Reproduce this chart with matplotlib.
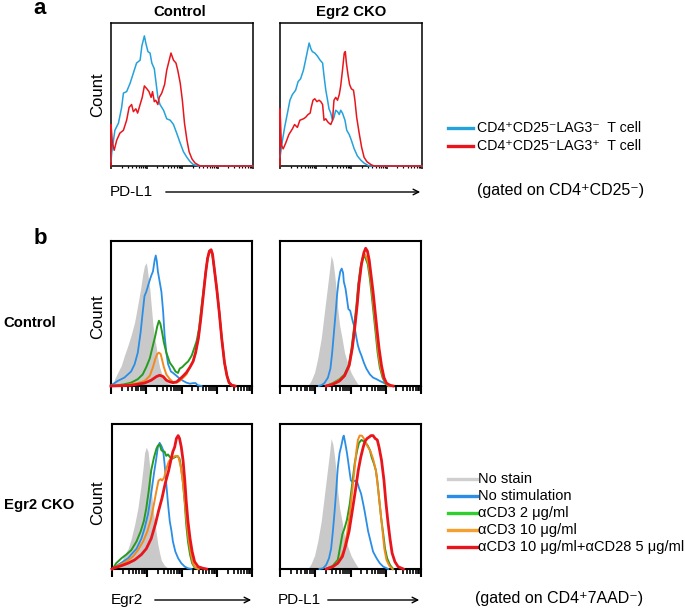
import numpy as np
import matplotlib
matplotlib.use('Agg')
import matplotlib.pyplot as plt
from matplotlib.lines import Line2D
from matplotlib.patches import FancyArrowPatch
from matplotlib.ticker import FixedLocator

plt.rcParams['font.family'] = ['Liberation Sans', 'DejaVu Sans']

# x = fluorescence in decades (0-4, log axis), y = count as fraction of panel height

# ---- panel a : PD-L1 on CD4+CD25- cells, LAG3- (blue) vs LAG3+ (red)
a_ctrl_neg = [(0.00, 0.03), (0.02, 0.09), (0.11, 0.25), (0.21, 0.30), (0.30, 0.41), (0.35, 0.51),
              (0.44, 0.52), (0.54, 0.58), (0.63, 0.65), (0.72, 0.72), (0.77, 0.73), (0.82, 0.74),
              (0.87, 0.84), (0.94, 0.91), (0.98, 0.86), (1.04, 0.80), (1.10, 0.79), (1.15, 0.72),
              (1.22, 0.68), (1.26, 0.60), (1.32, 0.48), (1.38, 0.43), (1.48, 0.39), (1.57, 0.33),
              (1.67, 0.32), (1.76, 0.29), (1.85, 0.23), (1.95, 0.16), (2.04, 0.10), (2.14, 0.06),
              (2.23, 0.03), (2.32, 0.01), (2.47, 0.0), (4.00, 0.0)]
a_ctrl_pos = [(0.00, 0.00), (0.00, 0.29), (0.04, 0.16), (0.09, 0.11), (0.16, 0.18), (0.25, 0.23),
              (0.35, 0.25), (0.44, 0.32), (0.51, 0.41), (0.58, 0.43), (0.63, 0.38), (0.70, 0.40),
              (0.75, 0.37), (0.82, 0.43), (0.88, 0.48), (0.94, 0.56), (1.01, 0.54), (1.07, 0.52),
              (1.13, 0.48), (1.17, 0.52), (1.22, 0.45), (1.26, 0.46), (1.32, 0.43), (1.36, 0.48),
              (1.43, 0.51), (1.51, 0.57), (1.57, 0.67), (1.64, 0.74), (1.69, 0.79), (1.76, 0.74),
              (1.83, 0.72), (1.88, 0.67), (1.95, 0.58), (2.01, 0.46), (2.07, 0.30), (2.14, 0.18),
              (2.20, 0.10), (2.28, 0.05), (2.37, 0.02), (2.51, 0.0), (4.00, 0.0)]
a_cko_neg = [(0.00, 0.06), (0.07, 0.18), (0.13, 0.27), (0.21, 0.37), (0.28, 0.46), (0.35, 0.50),
             (0.44, 0.53), (0.51, 0.59), (0.58, 0.61), (0.66, 0.67), (0.72, 0.74), (0.77, 0.80),
             (0.82, 0.86), (0.87, 0.82), (0.91, 0.80), (0.98, 0.79), (1.05, 0.77), (1.13, 0.74),
             (1.20, 0.72), (1.24, 0.63), (1.29, 0.53), (1.34, 0.46), (1.38, 0.40), (1.43, 0.37),
             (1.48, 0.32), (1.52, 0.34), (1.57, 0.39), (1.62, 0.38), (1.67, 0.36), (1.71, 0.39),
             (1.76, 0.37), (1.83, 0.32), (1.88, 0.25), (1.95, 0.22), (2.01, 0.18), (2.09, 0.12),
             (2.18, 0.07), (2.28, 0.04), (2.37, 0.02), (2.51, 0.0), (4.00, 0.0)]
a_cko_pos = [(0.00, 0.00), (0.00, 0.40), (0.04, 0.145), (0.09, 0.12), (0.16, 0.16), (0.25, 0.22),
             (0.35, 0.26), (0.41, 0.29), (0.49, 0.27), (0.56, 0.32), (0.66, 0.33), (0.72, 0.34),
             (0.79, 0.36), (0.85, 0.37), (0.88, 0.41), (0.93, 0.46), (0.98, 0.47), (1.04, 0.45),
             (1.10, 0.46), (1.15, 0.45), (1.20, 0.43), (1.24, 0.32), (1.29, 0.33), (1.34, 0.31),
             (1.38, 0.30), (1.43, 0.29), (1.48, 0.32), (1.52, 0.46), (1.57, 0.48), (1.62, 0.46),
             (1.67, 0.50), (1.71, 0.56), (1.76, 0.67), (1.81, 0.79), (1.84, 0.80), (1.87, 0.72),
             (1.92, 0.63), (1.96, 0.57), (2.01, 0.54), (2.07, 0.53), (2.11, 0.46), (2.16, 0.34),
             (2.23, 0.23), (2.30, 0.13), (2.37, 0.06), (2.45, 0.03), (2.56, 0.01), (2.65, 0.0),
             (4.00, 0.0)]

# ---- panel b : stimulation series (gated on CD4+7AAD-)
# control, Egr2
b_ce_nostain = [(0.05, 0.0), (0.10, 0.047), (0.19, 0.093), (0.29, 0.14), (0.38, 0.21), (0.48, 0.28),
                (0.57, 0.35), (0.67, 0.44), (0.76, 0.56), (0.84, 0.67), (0.90, 0.77), (0.95, 0.83),
                (1.00, 0.85), (1.03, 0.81), (1.07, 0.72), (1.10, 0.67), (1.14, 0.56), (1.19, 0.42),
                (1.24, 0.33), (1.29, 0.26), (1.33, 0.19), (1.38, 0.13), (1.43, 0.09), (1.48, 0.07),
                (1.52, 0.05), (1.62, 0.02), (1.71, 0.01), (1.81, 0.0)]
b_ce_nostim = [(0.00, 0.005), (0.10, 0.02), (0.19, 0.035), (0.29, 0.047), (0.38, 0.058), (0.48, 0.08),
               (0.57, 0.10), (0.67, 0.15), (0.76, 0.23), (0.84, 0.37), (0.90, 0.51), (0.95, 0.62),
               (1.00, 0.65), (1.05, 0.69), (1.10, 0.73), (1.14, 0.76), (1.19, 0.79), (1.24, 0.87),
               (1.27, 0.90), (1.30, 0.86), (1.33, 0.79), (1.38, 0.72), (1.43, 0.65), (1.48, 0.51),
               (1.52, 0.35), (1.57, 0.23), (1.62, 0.15), (1.70, 0.10), (1.76, 0.09), (1.86, 0.07),
               (1.95, 0.05), (2.05, 0.035), (2.14, 0.023), (2.24, 0.016), (2.33, 0.02), (2.40, 0.02),
               (2.46, 0.005), (2.57, 0.0)]
b_ce_cd3_2 = [(0.00, 0.0), (0.19, 0.005), (0.38, 0.012), (0.57, 0.023), (0.76, 0.047), (0.90, 0.08),
              (1.00, 0.13), (1.10, 0.19), (1.19, 0.28), (1.26, 0.35), (1.31, 0.41), (1.36, 0.45),
              (1.40, 0.43), (1.45, 0.37), (1.50, 0.30), (1.57, 0.23), (1.67, 0.16), (1.76, 0.13),
              (1.83, 0.10), (1.90, 0.09), (1.95, 0.12), (2.02, 0.13), (2.10, 0.15), (2.19, 0.17),
              (2.29, 0.21), (2.36, 0.26), (2.43, 0.31), (2.50, 0.40), (2.55, 0.51), (2.62, 0.65),
              (2.69, 0.79), (2.74, 0.88), (2.79, 0.93), (2.84, 0.93), (2.88, 0.90), (2.93, 0.81),
              (3.00, 0.67), (3.07, 0.51), (3.14, 0.33), (3.22, 0.16), (3.29, 0.07), (3.35, 0.023),
              (3.43, 0.005), (3.52, 0.0)]
b_ce_cd3_10 = [(0.00, 0.0), (0.38, 0.005), (0.76, 0.02), (0.95, 0.035), (1.10, 0.07), (1.19, 0.13),
               (1.26, 0.19), (1.31, 0.22), (1.36, 0.23), (1.41, 0.22), (1.46, 0.17), (1.50, 0.13),
               (1.57, 0.08), (1.67, 0.047), (1.76, 0.028), (1.86, 0.023), (1.95, 0.035), (2.05, 0.058),
               (2.14, 0.08), (2.24, 0.13), (2.33, 0.17), (2.40, 0.23), (2.48, 0.33), (2.55, 0.47),
               (2.62, 0.63), (2.69, 0.79), (2.74, 0.88), (2.79, 0.92), (2.84, 0.93), (2.88, 0.90),
               (2.93, 0.81), (3.00, 0.67), (3.07, 0.51), (3.14, 0.33), (3.22, 0.16), (3.29, 0.07),
               (3.35, 0.023), (3.43, 0.005), (3.52, 0.0)]
b_ce_cd3_cd28 = [(0.00, 0.0), (0.57, 0.005), (0.95, 0.02), (1.14, 0.04), (1.29, 0.065), (1.38, 0.074),
                 (1.48, 0.065), (1.57, 0.04), (1.67, 0.028), (1.76, 0.023), (1.86, 0.028), (1.95, 0.047),
                 (2.05, 0.07), (2.14, 0.093), (2.24, 0.13), (2.33, 0.17), (2.40, 0.23), (2.48, 0.33),
                 (2.55, 0.47), (2.62, 0.63), (2.69, 0.79), (2.74, 0.88), (2.79, 0.93), (2.84, 0.94),
                 (2.88, 0.91), (2.93, 0.81), (3.00, 0.67), (3.07, 0.51), (3.14, 0.33), (3.22, 0.16),
                 (3.29, 0.07), (3.35, 0.023), (3.43, 0.005), (3.52, 0.0)]
# control, PD-L1
b_cp_nostain = [(0.79, 0.0), (0.88, 0.035), (0.98, 0.093), (1.07, 0.19), (1.17, 0.33), (1.26, 0.51),
                (1.34, 0.67), (1.41, 0.81), (1.45, 0.90), (1.50, 0.86), (1.55, 0.77), (1.60, 0.65),
                (1.64, 0.53), (1.69, 0.42), (1.76, 0.33), (1.83, 0.23), (1.93, 0.15), (2.02, 0.09),
                (2.12, 0.047), (2.21, 0.012), (2.28, 0.0)]
b_cp_nostim = [(1.10, 0.0), (1.17, 0.005), (1.26, 0.02), (1.36, 0.058), (1.43, 0.12), (1.48, 0.23),
               (1.53, 0.37), (1.58, 0.51), (1.62, 0.63), (1.66, 0.72), (1.71, 0.79), (1.75, 0.81),
               (1.79, 0.78), (1.81, 0.72), (1.86, 0.67), (1.90, 0.60), (1.94, 0.53), (1.99, 0.52),
               (2.03, 0.48), (2.07, 0.44), (2.12, 0.40), (2.17, 0.33), (2.21, 0.28), (2.26, 0.24),
               (2.31, 0.21), (2.38, 0.16), (2.45, 0.12), (2.55, 0.08), (2.64, 0.058), (2.74, 0.047),
               (2.83, 0.035), (2.93, 0.023), (3.02, 0.012), (3.12, 0.0)]
b_cp_cd3_2 = [(1.31, 0.0), (1.50, 0.02), (1.69, 0.047), (1.83, 0.08), (1.96, 0.15), (2.03, 0.26),
              (2.10, 0.40), (2.17, 0.56), (2.22, 0.70), (2.28, 0.81), (2.34, 0.88), (2.38, 0.90),
              (2.43, 0.88), (2.49, 0.84), (2.55, 0.74), (2.60, 0.63), (2.66, 0.49), (2.72, 0.35),
              (2.77, 0.23), (2.83, 0.13), (2.91, 0.058), (2.98, 0.02), (3.07, 0.0)]
b_cp_cd3_10 = [(1.31, 0.0), (1.52, 0.018), (1.71, 0.045), (1.85, 0.08), (1.98, 0.15), (2.05, 0.26),
               (2.12, 0.40), (2.19, 0.57), (2.24, 0.71), (2.30, 0.82), (2.36, 0.89), (2.40, 0.91),
               (2.45, 0.89), (2.51, 0.84), (2.57, 0.74), (2.62, 0.63), (2.68, 0.49), (2.74, 0.35),
               (2.79, 0.23), (2.85, 0.13), (2.93, 0.058), (3.00, 0.02), (3.09, 0.0)]
b_cp_cd3_cd28 = [(1.31, 0.0), (1.50, 0.012), (1.69, 0.035), (1.83, 0.07), (1.96, 0.14), (2.05, 0.26),
                 (2.12, 0.40), (2.19, 0.56), (2.24, 0.70), (2.31, 0.84), (2.38, 0.92), (2.43, 0.95),
                 (2.48, 0.93), (2.53, 0.87), (2.58, 0.77), (2.64, 0.65), (2.70, 0.51), (2.76, 0.37),
                 (2.81, 0.26), (2.88, 0.14), (2.95, 0.058), (3.02, 0.02), (3.12, 0.005), (3.21, 0.0)]
# Egr2 CKO, Egr2
b_ke_nostain = [(0.00, 0.0), (0.08, 0.005), (0.17, 0.028), (0.27, 0.05), (0.36, 0.10), (0.46, 0.14),
                (0.55, 0.21), (0.65, 0.31), (0.74, 0.42), (0.82, 0.56), (0.89, 0.70), (0.93, 0.80),
                (0.98, 0.84), (1.03, 0.81), (1.08, 0.70), (1.12, 0.56), (1.17, 0.42), (1.22, 0.33),
                (1.27, 0.24), (1.31, 0.17), (1.36, 0.11), (1.41, 0.06), (1.49, 0.028), (1.60, 0.005),
                (1.70, 0.0)]
b_ke_nostim = [(0.00, 0.0), (0.03, 0.005), (0.17, 0.028), (0.31, 0.05), (0.46, 0.074), (0.55, 0.10),
               (0.70, 0.14), (0.84, 0.21), (0.93, 0.28), (1.03, 0.38), (1.12, 0.52), (1.20, 0.66),
               (1.27, 0.77), (1.31, 0.84), (1.36, 0.87), (1.41, 0.85), (1.46, 0.82), (1.50, 0.73),
               (1.55, 0.59), (1.60, 0.45), (1.65, 0.33), (1.70, 0.26), (1.74, 0.19), (1.81, 0.12),
               (1.89, 0.074), (1.98, 0.04), (2.08, 0.016), (2.17, 0.005), (2.27, 0.0)]
b_ke_cd3_2 = [(0.00, 0.0), (0.03, 0.005), (0.12, 0.04), (0.27, 0.074), (0.41, 0.10), (0.55, 0.13),
              (0.70, 0.19), (0.82, 0.26), (0.91, 0.33), (0.98, 0.42), (1.05, 0.54), (1.12, 0.68),
              (1.20, 0.77), (1.27, 0.83), (1.31, 0.85), (1.36, 0.86), (1.41, 0.82), (1.46, 0.81),
              (1.50, 0.81), (1.55, 0.78), (1.60, 0.79), (1.66, 0.77), (1.71, 0.76), (1.79, 0.77),
              (1.87, 0.78), (1.93, 0.76), (1.98, 0.69), (2.03, 0.59), (2.08, 0.45), (2.12, 0.31),
              (2.17, 0.19), (2.23, 0.10), (2.29, 0.04), (2.36, 0.01), (2.46, 0.0)]
b_ke_cd3_10 = [(0.00, 0.0), (0.03, 0.005), (0.22, 0.028), (0.41, 0.05), (0.60, 0.086), (0.74, 0.13),
               (0.89, 0.19), (1.01, 0.26), (1.12, 0.35), (1.20, 0.45), (1.27, 0.54), (1.33, 0.61),
               (1.39, 0.62), (1.43, 0.61), (1.49, 0.63), (1.55, 0.69), (1.62, 0.74), (1.68, 0.76),
               (1.74, 0.77), (1.81, 0.78), (1.87, 0.78), (1.90, 0.77), (1.96, 0.71), (2.02, 0.61),
               (2.08, 0.47), (2.13, 0.33), (2.19, 0.20), (2.25, 0.11), (2.31, 0.04), (2.38, 0.01),
               (2.48, 0.0)]
b_ke_cd3_cd28 = [(0.00, 0.0), (0.03, 0.005), (0.27, 0.023), (0.46, 0.04), (0.65, 0.063), (0.84, 0.10),
                 (0.98, 0.14), (1.12, 0.21), (1.24, 0.31), (1.33, 0.40), (1.43, 0.49), (1.52, 0.59),
                 (1.62, 0.68), (1.70, 0.77), (1.74, 0.81), (1.79, 0.84), (1.84, 0.90), (1.89, 0.92),
                 (1.93, 0.90), (1.98, 0.84), (2.03, 0.75), (2.08, 0.61), (2.12, 0.47), (2.17, 0.33),
                 (2.23, 0.21), (2.29, 0.12), (2.36, 0.05), (2.46, 0.016), (2.60, 0.005), (2.70, 0.0)]
# Egr2 CKO, PD-L1
b_kp_nostain = [(0.79, 0.0), (0.88, 0.035), (0.98, 0.093), (1.07, 0.19), (1.17, 0.33), (1.26, 0.51),
                (1.34, 0.67), (1.41, 0.81), (1.45, 0.90), (1.50, 0.86), (1.55, 0.77), (1.60, 0.65),
                (1.64, 0.53), (1.69, 0.42), (1.76, 0.33), (1.83, 0.23), (1.93, 0.15), (2.02, 0.09),
                (2.12, 0.047), (2.21, 0.012), (2.28, 0.0)]
b_kp_nostim = [(1.12, 0.0), (1.22, 0.005), (1.31, 0.028), (1.39, 0.074), (1.45, 0.14), (1.50, 0.26),
               (1.55, 0.40), (1.60, 0.56), (1.64, 0.70), (1.69, 0.80), (1.74, 0.85), (1.79, 0.91),
               (1.81, 0.92), (1.85, 0.87), (1.90, 0.80), (1.94, 0.73), (1.98, 0.66), (2.01, 0.61),
               (2.07, 0.60), (2.13, 0.61), (2.19, 0.60), (2.24, 0.56), (2.30, 0.52), (2.36, 0.45),
               (2.40, 0.40), (2.45, 0.33), (2.50, 0.26), (2.57, 0.19), (2.64, 0.12), (2.74, 0.074),
               (2.83, 0.04), (2.93, 0.016), (3.07, 0.0)]
b_kp_cd3_2 = [(1.31, 0.0), (1.50, 0.023), (1.64, 0.063), (1.72, 0.17), (1.77, 0.24), (1.83, 0.28),
              (1.90, 0.34), (1.98, 0.45), (2.05, 0.59), (2.12, 0.73), (2.19, 0.82), (2.24, 0.87),
              (2.31, 0.89), (2.38, 0.88), (2.43, 0.87), (2.49, 0.85), (2.55, 0.82), (2.60, 0.77),
              (2.66, 0.73), (2.72, 0.68), (2.76, 0.61), (2.81, 0.49), (2.87, 0.35), (2.93, 0.24),
              (2.98, 0.14), (3.04, 0.074), (3.12, 0.028), (3.21, 0.0)]
b_kp_cd3_10 = [(1.31, 0.0), (1.55, 0.023), (1.69, 0.063), (1.81, 0.13), (1.90, 0.24), (1.98, 0.38),
               (2.05, 0.54), (2.11, 0.68), (2.17, 0.82), (2.21, 0.89), (2.26, 0.92), (2.32, 0.92),
               (2.38, 0.90), (2.43, 0.87), (2.50, 0.84), (2.57, 0.81), (2.64, 0.76), (2.72, 0.68),
               (2.78, 0.56), (2.85, 0.40), (2.91, 0.26), (2.96, 0.14), (3.02, 0.063), (3.10, 0.023),
               (3.19, 0.0)]
b_kp_cd3_cd28 = [(1.31, 0.0), (1.50, 0.016), (1.64, 0.04), (1.77, 0.086), (1.86, 0.16), (1.96, 0.26),
                 (2.05, 0.40), (2.15, 0.56), (2.22, 0.68), (2.29, 0.77), (2.36, 0.84), (2.41, 0.88),
                 (2.47, 0.90), (2.53, 0.91), (2.58, 0.92), (2.64, 0.92), (2.70, 0.90), (2.76, 0.89),
                 (2.81, 0.84), (2.88, 0.75), (2.95, 0.61), (3.00, 0.47), (3.06, 0.33), (3.12, 0.21),
                 (3.18, 0.11), (3.26, 0.05), (3.35, 0.016), (3.50, 0.0)]

a_labels = ['CD4\u207aCD25\u207bLAG3\u207b  T cell', 'CD4\u207aCD25\u207bLAG3\u207a  T cell']
b_labels = ['No stain', 'No stimulation', '\u03b1CD3 2 \u03bcg/ml', '\u03b1CD3 10 \u03bcg/ml',
            '\u03b1CD3 10 \u03bcg/ml+\u03b1CD28 5 \u03bcg/ml']

blue_a = '#25a2dc'
red = '#e8161c'
gray = '#c9c9c9'
blue_b = '#2a8ee6'
green = '#259c1f'
orange = '#f28a1e'

W, H = 685, 611
fig = plt.figure(figsize=(W / 100, H / 100), dpi=100)


def fx(x):
    return x / W


def fy(y):
    return 1 - y / H


def panel(l, t, r, b, lw, major, minor):
    ax = fig.add_axes([fx(l), fy(b), (r - l) / W, (b - t) / H])
    ax.set_xlim(0, 4)
    ax.set_ylim(0, 1)
    for s in ax.spines.values():
        s.set_linewidth(lw)
    ax.set_yticks([])
    ax.xaxis.set_major_locator(FixedLocator([0, 1, 2, 3, 4]))
    ax.xaxis.set_minor_locator(FixedLocator([d + np.log10(k) for d in range(4) for k in range(2, 10)]))
    ax.tick_params(axis='x', which='major', direction='out', length=major, width=lw, labelbottom=False)
    ax.tick_params(axis='x', which='minor', direction='out', length=minor, width=lw * 0.8)
    return ax


def curve(ax, data, color, lw):
    x, y = np.array(data).T
    ax.plot(x, y, color=color, lw=lw, zorder=3, clip_on=False)


def filled(ax, data):
    x, y = np.array(data).T
    ax.fill_between(x, 0, y, color=gray, lw=0, zorder=1)


# panel a
ax1 = panel(111, 23, 253, 166, 1.1, 2.5, 1.5)
curve(ax1, a_ctrl_neg, blue_a, 1.1)
curve(ax1, a_ctrl_pos, red, 1.1)
ax2 = panel(280, 23, 422, 166, 1.1, 2.5, 1.5)
curve(ax2, a_cko_neg, blue_a, 1.1)
curve(ax2, a_cko_pos, red, 1.1)

# panel b
b_sets = [((111, 241, 252, 386), [b_ce_nostain, b_ce_nostim, b_ce_cd3_2, b_ce_cd3_10, b_ce_cd3_cd28]),
          ((280, 241, 421, 386), [b_cp_nostain, b_cp_nostim, b_cp_cd3_2, b_cp_cd3_10, b_cp_cd3_cd28]),
          ((112, 424, 252, 569), [b_ke_nostain, b_ke_nostim, b_ke_cd3_2, b_ke_cd3_10, b_ke_cd3_cd28]),
          ((280, 424, 421, 569), [b_kp_nostain, b_kp_nostim, b_kp_cd3_2, b_kp_cd3_10, b_kp_cd3_cd28])]
for box, sets in b_sets:
    ax = panel(*box, 1.5, 6, 3.5)
    filled(ax, sets[0])
    curve(ax, sets[1], blue_b, 1.3)
    curve(ax, sets[2], green, 1.4)
    curve(ax, sets[3], orange, 1.4)
    curve(ax, sets[4], red, 2.0)

# texts
fig.text(fx(40), fy(9), 'a', fontsize=16, fontweight='bold', ha='center', va='center')
fig.text(fx(40), fy(238), 'b', fontsize=16, fontweight='bold', ha='center', va='center')
fig.text(fx(180), fy(12), 'Control', fontsize=10.7, fontweight='bold', ha='center', va='center')
fig.text(fx(351), fy(12), 'Egr2 CKO', fontsize=10.7, fontweight='bold', ha='center', va='center')
fig.text(fx(30), fy(323), 'Control', fontsize=10.7, fontweight='bold', ha='center', va='center')
fig.text(fx(39), fy(505), 'Egr2 CKO', fontsize=10.7, fontweight='bold', ha='center', va='center')
for yc in (95, 317, 503):
    fig.text(fx(98), fy(yc), 'Count', fontsize=12, rotation=90, ha='center', va='center')


def axis_name(x0, y, name, a0, a1):
    fig.text(fx(x0), fy(y), name, fontsize=11, ha='left', va='center')
    fig.add_artist(FancyArrowPatch((fx(a0), fy(y)), (fx(a1), fy(y)), transform=fig.transFigure,
                                   arrowstyle='->', mutation_scale=10, lw=1, color='black'))


axis_name(110, 192, 'PD-L1', 163, 423)
axis_name(111, 600, 'Egr2', 152, 254)
axis_name(278, 600, 'PD-L1', 325, 422)

fig.text(fx(477), fy(191), '(gated on CD4\u207aCD25\u207b)', fontsize=11.5, ha='left', va='center')
fig.text(fx(475), fy(598), '(gated on CD4\u207a7AAD\u207b)', fontsize=11.5, ha='left', va='center')

# legends
for lab, col, yy in zip(a_labels, [blue_a, red], [128, 146]):
    fig.add_artist(Line2D([fx(448), fx(473)], [fy(yy), fy(yy)], transform=fig.transFigure, color=col, lw=2.4))
    fig.text(fx(477), fy(yy), lab, fontsize=10.2, ha='left', va='center')
b_leg_colors = ['#cfcfcf', blue_b, '#2fcf2f', '#f7a030', red]
for lab, col, yy in zip(b_labels, b_leg_colors, [479, 496, 513, 530, 547]):
    fig.add_artist(Line2D([fx(448), fx(477)], [fy(yy), fy(yy)], transform=fig.transFigure, color=col, lw=2.4))
    fig.text(fx(478), fy(yy), lab, fontsize=10.5, ha='left', va='center')

fig.savefig('out.png', dpi=100)
